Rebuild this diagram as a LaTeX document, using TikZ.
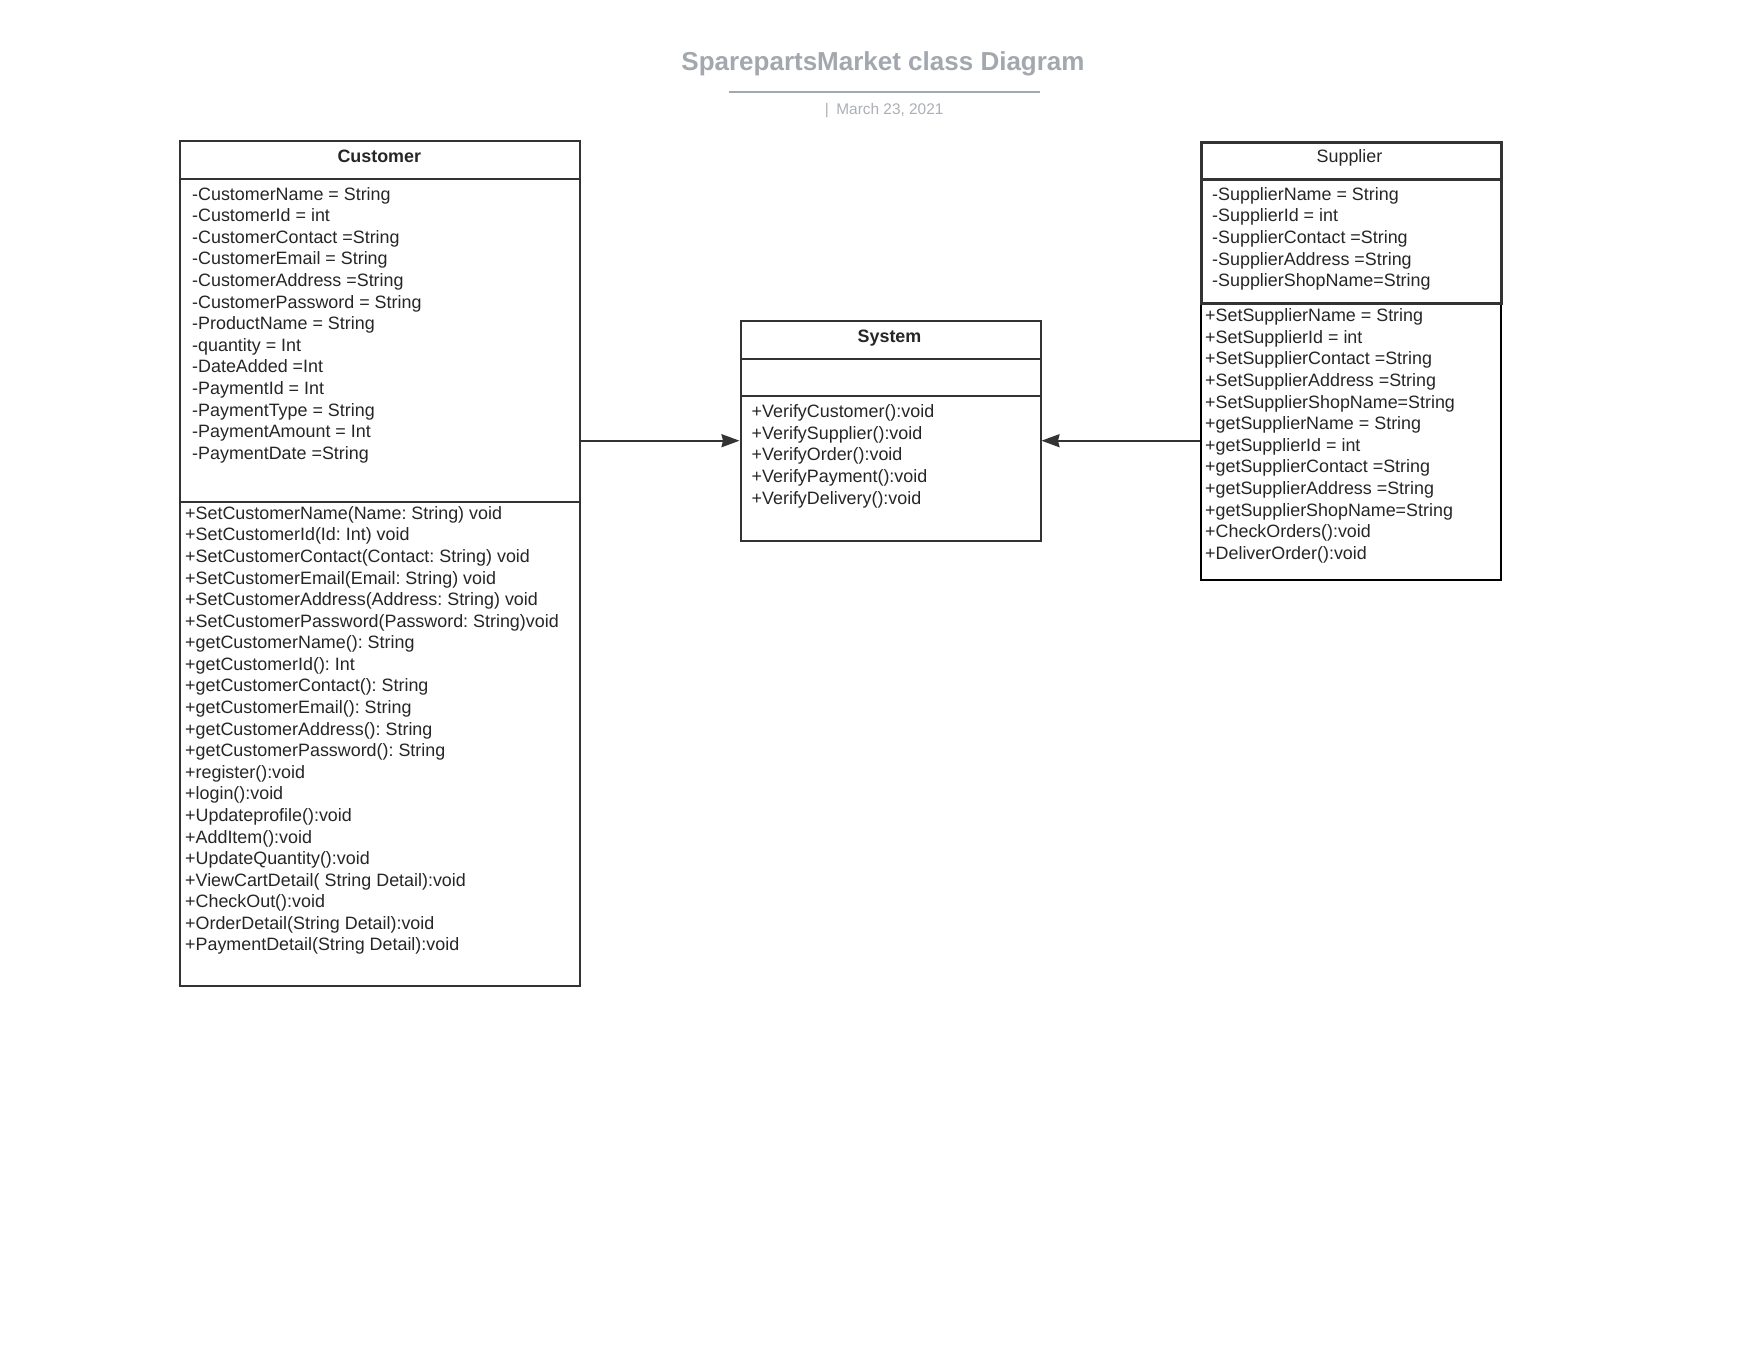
\documentclass[tikz,border=0pt]{standalone}
\usepackage{fontspec}
\setmainfont{Liberation Sans}
\usetikzlibrary{arrows.meta}
\frenchspacing
\definecolor{boxline}{HTML}{333333}
\definecolor{txt}{HTML}{262626}
\definecolor{titlegray}{HTML}{A3A7AE}
\definecolor{dategray}{HTML}{ABAFB6}
\tikzset{
  cbox/.style={draw=boxline, line width=2pt, anchor=north west, inner sep=0pt, minimum width=#1},
  memb/.style={anchor=base west, inner sep=0pt, text=txt, font=\fontsize{17.9}{21.6}\selectfont},
  hdr/.style={anchor=base, inner sep=0pt, text=txt, font=\fontsize{17.9}{21.6}\selectfont\bfseries},
  hdrplain/.style={anchor=base, inner sep=0pt, text=txt, font=\fontsize{17.9}{21.6}\selectfont},
  conn/.style={draw=boxline, line width=2pt, -{Stealth[length=18pt,width=13pt,inset=1.5pt]}}
}
\begin{document}
\begin{tikzpicture}[x=1pt,y=-1pt]
\useasboundingbox[fill=white] (0,0) rectangle (1760,1360);

% Title
\node[anchor=base, inner sep=0pt, text=titlegray, font=\fontsize{26}{30}\selectfont\bfseries] (title) at (883,70.7) {SparepartsMarket class Diagram};
\coordinate (ruleL) at (729,92.3);
\coordinate (ruleR) at (1040,92.3);
\draw[titlegray, line width=2pt] (ruleL) -- (ruleR);
\node[anchor=base west, inner sep=0pt, text=dategray, font=\fontsize{15.4}{18}\selectfont] (date) at (824.6,114.8) {|\hspace{3.3pt} March 23, 2021};

% Customer class
\node[cbox=400pt, minimum height=37.5pt] (custH) at (179.3,140) {};
\node[cbox=400pt, minimum height=323pt] (custA) at (179.3,177.5) {};
\node[cbox=400pt, minimum height=484.5pt] (custM) at (179.3,500.5) {};
\node[hdr] (custT) at (379.3,162.7) {Customer};
\foreach \t [count=\i from 0] in {-CustomerName = String,-CustomerId = int,-CustomerContact =String,-CustomerEmail = String,-CustomerAddress =String,-CustomerPassword = String,-ProductName = String,-quantity = Int,-DateAdded =Int,-PaymentId = Int,-PaymentType = String,-PaymentAmount = Int,-PaymentDate =String}
  \node[memb] (ca\i) at (192,200+21.6*\i) {\t};
\foreach \t [count=\i from 0] in {+SetCustomerName(Name: String) void,+SetCustomerId(Id: Int) void,+SetCustomerContact(Contact: String) void,+SetCustomerEmail(Email: String) void,+SetCustomerAddress(Address: String) void,+SetCustomerPassword(Password: String)void,+getCustomerName(): String,+getCustomerId(): Int,+getCustomerContact(): String,+getCustomerEmail(): String,+getCustomerAddress(): String,+getCustomerPassword(): String,+register():void,+login():void,+Updateprofile():void,+AddItem():void,+UpdateQuantity():void,+ViewCartDetail( String Detail):void,+CheckOut():void,+OrderDetail(String Detail):void,+PaymentDetail(String Detail):void}
  \node[memb] (cm\i) at (185,519.3+21.58*\i) {\t};

% System class
\node[cbox=300pt, minimum height=37.7pt] (sysH) at (739.5,320) {};
\node[cbox=300pt, minimum height=37.3pt] (sysA) at (739.5,357.7) {};
\node[cbox=300pt, minimum height=145pt] (sysM) at (739.5,395) {};
\node[hdr] (sysT) at (889.5,342.7) {System};
\foreach \t [count=\i from 0] in {+VerifyCustomer():void,+VerifySupplier():void,+VerifyOrder():void,+VerifyPayment():void,+VerifyDelivery():void}
  \node[memb] (sm\i) at (751.5,417.7+21.6*\i) {\t};

% Supplier class
\node[cbox=300pt, minimum height=277.6pt, draw=black] (supM) at (1199.5,301.7) {};
\node[cbox=300pt, minimum height=37pt, line width=3pt] (supH) at (1199.5,140.7) {};
\node[cbox=300pt, minimum height=124pt, line width=3pt] (supA) at (1199.5,177.7) {};
\node[hdrplain] (supT) at (1349.5,162.7) {Supplier};
\foreach \t [count=\i from 0] in {-SupplierName = String,-SupplierId = int,-SupplierContact =String,-SupplierAddress =String,-SupplierShopName=String}
  \node[memb] (pa\i) at (1212,200+21.67*\i) {\t};
\foreach \t [count=\i from 0] in {+SetSupplierName = String,+SetSupplierId = int,+SetSupplierContact =String,+SetSupplierAddress =String,+SetSupplierShopName=String,+getSupplierName = String,+getSupplierId = int,+getSupplierContact =String,+getSupplierAddress =String,+getSupplierShopName=String,+CheckOrders():void,+DeliverOrder():void}
  \node[memb] (pm\i) at (1205,321.7+21.6*\i) {\t};

% Connectors
\coordinate (ay) at (0,440.7);
\draw[conn] (custA.east |- ay) -- (sysM.west |- ay);
\draw[conn] (supM.west |- ay) -- (sysM.east |- ay);
\end{tikzpicture}
\end{document}
